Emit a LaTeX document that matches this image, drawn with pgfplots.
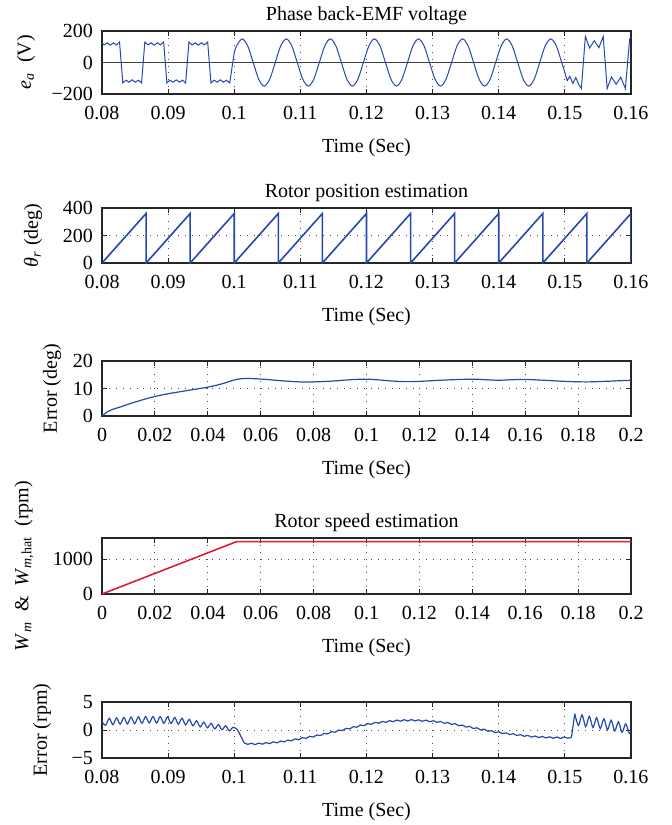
\documentclass[border=0pt]{standalone}
\usepackage{fontspec}
\setmainfont{Liberation Serif}
\usepackage{pgfplots}
\pgfplotsset{compat=1.18}
\definecolor{mblue}{RGB}{40,70,175}
\definecolor{mred}{RGB}{230,25,45}
\pgfplotsset{
  matlab/.style={
    scale only axis, width=264.5pt, anchor=south west,
    tick align=inside, major tick length=2.5pt,
    grid=major,
    grid style={black!70, line width=0.45pt, dash pattern=on 0.45pt off 3pt},
    axis line style={black!85, line width=0.6pt},
    every tick/.style={black!85, line width=0.5pt},
    tick label style={font=\fontsize{10}{12}\selectfont},
    label style={font=\fontsize{10}{12}\selectfont},
    title style={font=\fontsize{10}{12}\selectfont},
    /pgf/number format/assume math mode=true,
    xticklabel style={yshift=-2.5pt},
    yticklabel style={xshift=-1pt},
    xlabel={Time (Sec)},
    xlabel style={at={(axis description cs:0.5,0)}, anchor=center, yshift=-27pt},
    title style={at={(axis description cs:0.5,1)}, anchor=center, yshift=1.5pt},
  },
  fastx/.style={xmin=0.08, xmax=0.16,
    xtick={0.08,0.09,0.1,0.11,0.12,0.13,0.14,0.15,0.16},
    xticklabels={0.08,0.09,0.1,0.11,0.12,0.13,0.14,0.15,0.16}},
  slowx/.style={xmin=0, xmax=0.2,
    xtick={0,0.02,0.04,0.06,0.08,0.1,0.12,0.14,0.16,0.18,0.2},
    xticklabels={0,0.02,0.04,0.06,0.08,0.1,0.12,0.14,0.16,0.18,0.2}},
}
\begin{document}
\begin{tikzpicture}
\useasboundingbox (0,0) rectangle (335.5pt,-412.5pt);

% Phase back-EMF
\begin{axis}[matlab, fastx, at={(51pt,-47pt)}, height=31.5pt,
  ymin=-200, ymax=200, ytick={-200,0,200}, yticklabels={−200,0,200},
  title={Phase back-EMF voltage},
  ylabel={\textit{e}\textsubscript{\textit{a}}\ \ (V)},
  ylabel style={at={(axis description cs:-0.1437,0.5)}, anchor=center}]
\addplot[black!75, line width=0.7pt] coordinates {(0.08,0) (0.16,0)};
\addplot[mblue, line width=0.5pt] coordinates {
 (0.08000,124) (0.08032,112) (0.08079,125) (0.08127,110) (0.08174,125) (0.08221,112) (0.08265,130)
 (0.08315,-130) (0.08362,-112) (0.08409,-125) (0.08457,-110) (0.08504,-125) (0.08551,-112) (0.08598,-130)
 (0.08648,130) (0.08695,112) (0.08742,125) (0.08790,110) (0.08837,125) (0.08884,112) (0.08932,130)
 (0.08982,-130) (0.09029,-112) (0.09076,-125) (0.09124,-110) (0.09171,-125) (0.09218,-112) (0.09265,-130)
 (0.09315,130) (0.09362,112) (0.09409,125) (0.09457,110) (0.09504,125) (0.09551,112) (0.09598,130)
 (0.09648,-130) (0.09695,-112) (0.09742,-125) (0.09790,-110) (0.09837,-125) (0.09884,-112) (0.09932,-130)
 (0.10000,64)};
\addplot[mblue, line width=0.5pt, smooth] coordinates {
 (0.100000,64) (0.100367,106) (0.101200,150) (0.102033,106) (0.102867,0)
 (0.103700,-106) (0.104533,-150) (0.105367,-106) (0.106200,0)
 (0.107033,106) (0.107867,150) (0.108700,106) (0.109533,0)
 (0.110367,-106) (0.111200,-150) (0.112033,-106) (0.112867,0)
 (0.113700,106) (0.114533,150) (0.115367,106) (0.116200,0)
 (0.117033,-106) (0.117867,-150) (0.118700,-106) (0.119533,0)
 (0.120367,106) (0.121200,150) (0.122033,106) (0.122867,0)
 (0.123700,-106) (0.124533,-150) (0.125367,-106) (0.126200,0)
 (0.127033,106) (0.127867,150) (0.128700,106) (0.129533,0)
 (0.130367,-106) (0.131200,-150) (0.132033,-106) (0.132867,0)
 (0.133700,106) (0.134533,150) (0.135367,106) (0.136200,0)
 (0.137033,-106) (0.137867,-150) (0.138700,-106) (0.139533,0)
 (0.140367,106) (0.141200,150) (0.142033,106) (0.142867,0)
 (0.143700,-106) (0.144533,-150) (0.145367,-106) (0.146200,0)
 (0.147033,106) (0.147867,150) (0.148700,106) (0.149533,0)
 (0.150000,-64)};
\addplot[mblue, line width=0.5pt] coordinates {
 (0.15000,-64) (0.15035,-115) (0.15075,-88) (0.15120,-132) (0.15165,-95) (0.15210,-140) (0.15250,-165)
 (0.15310,165) (0.15375,92) (0.15445,138) (0.15515,94) (0.15580,165)
 (0.15640,-165) (0.15705,-92) (0.15775,-138) (0.15845,-94) (0.15915,-165)
 (0.15980,150) (0.16000,160)};
\end{axis}

% Rotor position
\begin{axis}[matlab, fastx, at={(51pt,-131.5pt)}, height=27.5pt,
  ymin=0, ymax=400, ytick={0,200,400}, yticklabels={0,200,400},
  title={Rotor position estimation},
  ylabel={\textit{θ}\textsubscript{\textit{r}}\ (deg)},
  ylabel style={at={(axis description cs:-0.1304,0.5)}, anchor=center}]
\addplot[mblue, line width=0.8pt] coordinates {
 (0.080000,0) (0.086667,360) (0.086667,0) (0.093333,360) (0.093333,0)
 (0.100000,360) (0.100000,0) (0.106667,360) (0.106667,0) (0.113333,360)
 (0.113333,0) (0.120000,360) (0.120000,0) (0.126667,360) (0.126667,0)
 (0.133333,360) (0.133333,0) (0.140000,360) (0.140000,0) (0.146667,360)
 (0.146667,0) (0.153333,360) (0.153333,0) (0.160000,360) (0.160000,0)};
\end{axis}

% Position error
\begin{axis}[matlab, slowx, at={(51pt,-208pt)}, height=27.5pt,
  ymin=0, ymax=20, ytick={0,10,20}, yticklabels={0,10,20},
  ylabel={Error (deg)},
  ylabel style={at={(axis description cs:-0.0945,0.5)}, anchor=center}]
\addplot[mblue, line width=0.6pt, smooth] coordinates {
 (0,0) (0.001,0.8) (0.002,1.5) (0.004,2.4) (0.007,3.3) (0.01,4.3) (0.015,5.8)
 (0.02,7.1) (0.025,8.1) (0.03,8.9) (0.035,9.7) (0.04,10.5) (0.045,11.6)
 (0.05,13.1) (0.053,13.6) (0.057,13.6) (0.062,13.3) (0.068,12.8) (0.075,12.4)
 (0.08,12.4) (0.087,12.7) (0.094,13.2) (0.1,13.4) (0.105,13.1) (0.11,12.7)
 (0.115,12.5) (0.12,12.6) (0.13,13.1) (0.14,13.4) (0.145,13.2) (0.15,13.0)
 (0.155,13.2) (0.16,13.3) (0.167,13.0) (0.175,12.6) (0.183,12.4) (0.19,12.6)
 (0.2,13.0)};
\end{axis}

% Rotor speed
\begin{axis}[matlab, slowx, at={(51pt,-297pt)}, height=28pt,
  ymin=0, ymax=1600, ytick={0,1000}, yticklabels={0,1000},
  title={Rotor speed estimation},
  ylabel={\textit{W}\textsubscript{\textit{m}}\ \ \&\ \ \textit{W}\textsubscript{\textit{m},hat}\ \ (rpm)},
  ylabel style={at={(axis description cs:-0.1474,0.5)}, anchor=center}]
\addplot[mblue, line width=0.4pt] coordinates {(0,0) (0.051,1500) (0.2,1500)};
\addplot[mred, line width=0.75pt] coordinates {(0,0) (0.051,1500) (0.2,1500)};
\end{axis}

% Speed error
\begin{axis}[matlab, fastx, at={(51pt,-379pt)}, height=28pt,
  ymin=-5, ymax=5, ytick={-5,0,5}, yticklabels={−5,0,5},
  ylabel={Error (rpm)},
  ylabel style={at={(axis description cs:-0.1134,0.5)}, anchor=center}]
\addplot[mblue, line width=0.6pt, smooth] coordinates {
 (0.08000,1.5) (0.08055,0.85) (0.08110,2.1) (0.08165,0.95) (0.08220,2.15)
 (0.08275,1.05) (0.08330,2.25) (0.08385,1.1) (0.08440,2.3) (0.08495,1.15)
 (0.08550,2.35) (0.08605,1.2) (0.08660,2.4) (0.08715,1.25) (0.08770,2.4)
 (0.08825,1.25) (0.08880,2.4) (0.08935,1.2) (0.08990,2.35) (0.09045,1.15)
 (0.09100,2.25) (0.09155,1.05) (0.09210,2.1) (0.09265,0.9) (0.09320,1.9)
 (0.09375,0.75) (0.09430,1.65) (0.09485,0.55) (0.09540,1.4) (0.09595,0.4)
 (0.09650,1.2) (0.09705,0.2) (0.09760,0.95) (0.09815,0.05) (0.09870,0.75)
 (0.09925,-0.15) (0.09980,0.5) (0.10035,0.2)};
\addplot[mblue, line width=0.6pt] coordinates {(0.10035,0.2) (0.1007,-0.4) (0.1015,-2.28)};
\addplot[mblue, line width=0.6pt, smooth] coordinates {
 (0.10150,-2.28) (0.10205,-2.56) (0.10260,-2.35) (0.10315,-2.61) (0.10370,-2.33)
 (0.10425,-2.53) (0.10480,-2.25) (0.10535,-2.43) (0.10590,-2.12) (0.10645,-2.29)
 (0.10700,-1.98) (0.10755,-2.12) (0.10810,-1.79) (0.10865,-1.93) (0.10920,-1.59)
 (0.10975,-1.72) (0.11030,-1.37) (0.11085,-1.50) (0.11140,-1.14) (0.11195,-1.26)
 (0.11250,-0.89) (0.11305,-0.99) (0.11360,-0.60) (0.11415,-0.69) (0.11470,-0.30)
 (0.11525,-0.40) (0.11580,-0.01) (0.11635,-0.10) (0.11690,0.29) (0.11745,0.20)
 (0.11800,0.59) (0.11855,0.50) (0.11910,0.89) (0.11965,0.78) (0.12020,1.14)
 (0.12075,1.02) (0.12130,1.37) (0.12185,1.21) (0.12240,1.53) (0.12295,1.37)
 (0.12350,1.67) (0.12405,1.48) (0.12460,1.78) (0.12515,1.58) (0.12570,1.84)
 (0.12625,1.61) (0.12680,1.87) (0.12735,1.62) (0.12790,1.82) (0.12845,1.55)
 (0.12900,1.77) (0.12955,1.48) (0.13010,1.66) (0.13065,1.37) (0.13120,1.53)
 (0.13175,1.20) (0.13230,1.34) (0.13285,1.01) (0.13340,1.13) (0.13395,0.77)
 (0.13450,0.88) (0.13505,0.52) (0.13560,0.64) (0.13615,0.27) (0.13670,0.39)
 (0.13725,0.02) (0.13780,0.14) (0.13835,-0.22) (0.13890,-0.11) (0.13945,-0.45)
 (0.14000,-0.31) (0.14055,-0.64) (0.14110,-0.50) (0.14165,-0.82) (0.14220,-0.66)
 (0.14275,-0.98) (0.14330,-0.82) (0.14385,-1.13) (0.14440,-0.96) (0.14495,-1.26)
 (0.14550,-1.07) (0.14605,-1.35) (0.14660,-1.15) (0.14715,-1.43) (0.14770,-1.21)
 (0.14825,-1.47) (0.14880,-1.25) (0.14935,-1.50) (0.14990,-1.25) (0.15045,-1.46)
 (0.15100,-1.30)};
\addplot[mblue, line width=0.6pt] coordinates {(0.15100,-1.30) (0.15150,2.9)};
\addplot[mblue, line width=0.6pt, smooth] coordinates {
 (0.15150,2.9) (0.15205,0.8) (0.15260,2.7) (0.15315,0.6) (0.15370,2.45)
 (0.15425,0.45) (0.15480,2.2) (0.15535,0.25) (0.15590,2.0) (0.15645,0.05)
 (0.15700,1.75) (0.15755,-0.15) (0.15810,1.45) (0.15865,-0.4) (0.15920,1.1)
 (0.15975,-0.6) (0.16000,-0.2)};
\end{axis}
\end{tikzpicture}
\end{document}
